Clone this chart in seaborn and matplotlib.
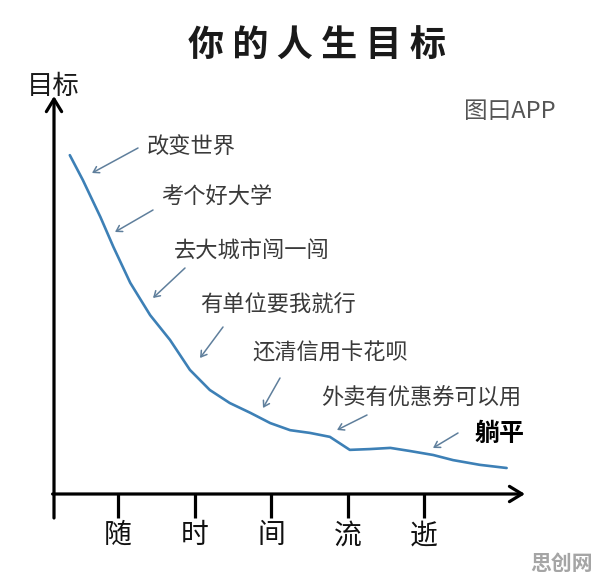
import numpy as np
import pandas as pd
import seaborn as sns
import matplotlib.pyplot as plt

# data: time on the x axis (ticks at 1..5), goal level 0..100
time_x = [0.37, 0.54, 0.77, 0.94, 1.16, 1.42, 1.68, 1.94, 2.20, 2.46, 2.73, 2.99,
          3.25, 3.51, 3.77, 4.03, 4.29, 4.56, 4.82, 5.12, 5.38, 5.73, 6.08]
goal_y = [86.0, 79.7, 70.3, 62.7, 53.6, 45.4, 39.1, 31.5, 26.4, 23.1, 20.6, 18.0,
          16.2, 15.5, 14.5, 11.2, 11.4, 11.7, 10.9, 9.9, 8.6, 7.4, 6.6]
tick_pos = [1, 2, 3, 4, 5]
tick_labels = ['随', '时', '间', '流', '逝']
goals = ['改变世界', '考个好大学', '去大城市闯一闯', '有单位要我就行',
         '还清信用卡花呗', '外卖有优惠券可以用', '躺平']

sns.set_style('white')
plt.rcParams['font.family'] = ['Noto Sans CJK SC', 'DejaVu Sans']

W, H = 596, 580
fig = plt.figure(figsize=(W / 100, H / 100), dpi=100)
fig.patch.set_facecolor('white')


def fpx(px, py):
    # pixel position in the picture -> figure fraction
    return (px / W, 1 - py / H)


# axes box: left 54px, right 525px, bottom 494px, top 100px
ax = fig.add_axes([54 / W, (H - 494) / H, (525 - 54) / W, (494 - 100) / H])
df = pd.DataFrame({'t': time_x, 'goal': goal_y})
sns.lineplot(data=df, x='t', y='goal', color='#3d80b6', linewidth=1.9, ax=ax)
ax.set_xlim(1 - 64 / 76.5, 1 + 407 / 76.5)
ax.set_ylim(0, 100)
for s in ax.spines.values():
    s.set_visible(False)
ax.set_xlabel('')
ax.set_ylabel('')
ax.set_yticks([])
ax.set_xticks(tick_pos)
ax.set_xticklabels(tick_labels, fontsize=20, color='#111111')
ax.tick_params(axis='x', direction='out', length=17, width=2.3, color='black', pad=2,
               bottom=True)
ax.patch.set_alpha(0)

# axes drawn as arrows
arrow_kw = dict(arrowstyle='->,head_length=0.9,head_width=0.55', lw=2.3, color='black',
                shrinkA=0, shrinkB=0)
ax.annotate('', xy=(0, 1.01), xytext=(0, -24 / 394), xycoords='axes fraction',
            arrowprops=arrow_kw, annotation_clip=False)
ax.annotate('', xy=(1, 0), xytext=(-0.003, 0), xycoords='axes fraction',
            arrowprops=arrow_kw, annotation_clip=False)

# annotation arrows (tip, tail) and label positions in picture pixels
tips = [(92, 173), (115, 232), (153, 298), (200, 358), (263, 408), (337, 430), (433, 448)]
tails = [(138, 148), (153, 210), (185, 268), (223, 327), (280, 378), (367, 415), (458, 433)]
text_pos = [(147, 147), (161, 197), (174, 250), (200, 305), (252, 353), (321, 398), (474, 434)]

for i, g in enumerate(goals):
    fig.add_artist(plt.matplotlib.patches.FancyArrowPatch(
        fpx(*tails[i]), fpx(*tips[i]), transform=fig.transFigure,
        arrowstyle='->,head_length=4,head_width=2.5', color='#5f7f9c', lw=1.1,
        shrinkA=0, shrinkB=0))
    last = i == len(goals) - 1
    fig.text(*fpx(*text_pos[i]), g, ha='left', va='center',
             fontsize=18 if last else 16, fontweight='bold' if last else 'normal',
             color='black' if last else '#3a3a3a')

fig.text(*fpx(317, 46), '你 的 人 生 目 标', ha='center', va='center', fontsize=26,
         fontweight='bold', color='#1a1a1a')
fig.text(*fpx(27, 86), '目标', ha='left', va='center', fontsize=19, color='#1a1a1a')
fig.text(*fpx(464, 111), '图曰APP', ha='left', va='center', fontsize=17, color='#555555')
fig.text(*fpx(593, 563), '思创网', ha='right', va='center', fontsize=15,
         fontweight='bold', color='#a5a5a5')

fig.savefig('out.png', dpi=100)
